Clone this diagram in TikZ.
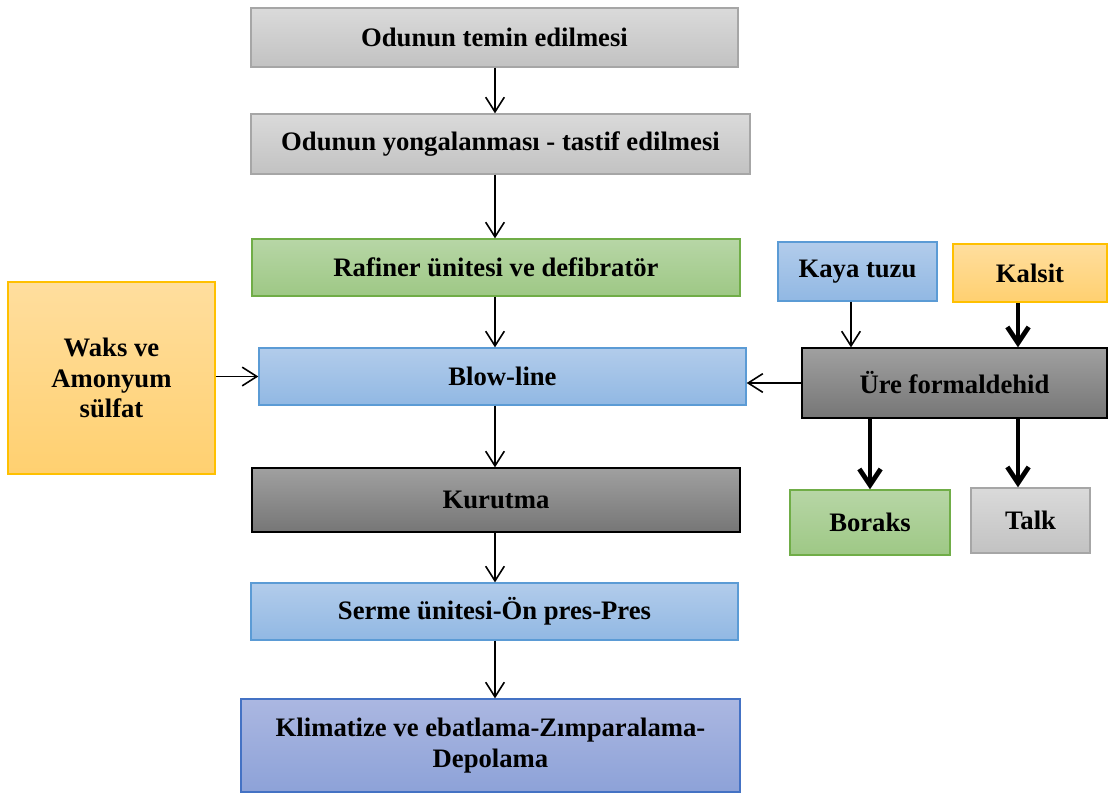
\documentclass[tikz,border=0pt]{standalone}
\usepackage{fontspec}
\setmainfont{Liberation Serif}
\usepackage{tikz}
\usetikzlibrary{arrows.meta}

\definecolor{grayTop}{RGB}{218,218,218}
\definecolor{grayBot}{RGB}{194,194,194}
\definecolor{grayLine}{RGB}{166,166,166}
\definecolor{greenTop}{RGB}{183,214,166}
\definecolor{greenBot}{RGB}{158,200,133}
\definecolor{greenLine}{RGB}{112,173,71}
\definecolor{blueTop}{RGB}{178,204,235}
\definecolor{blueBot}{RGB}{145,184,227}
\definecolor{blueLine}{RGB}{91,155,213}
\definecolor{darkTop}{RGB}{160,160,160}
\definecolor{darkBot}{RGB}{118,118,118}
\definecolor{orangeTop}{RGB}{255,222,158}
\definecolor{orangeBot}{RGB}{255,208,112}
\definecolor{orangeLine}{RGB}{255,192,0}
\definecolor{violetTop}{RGB}{171,183,225}
\definecolor{violetBot}{RGB}{141,162,216}
\definecolor{violetLine}{RGB}{68,114,196}

\begin{document}
\begin{tikzpicture}[x=0.75pt,y=0.75pt,yscale=-1,xscale=1,
    box/.style={draw, line width=1pt, inner sep=0pt, align=center, text=black,
        font=\bfseries\fontsize{20}{23}\selectfont},
    grayBox/.style={box, draw=grayLine, top color=grayTop, bottom color=grayBot},
    greenBox/.style={box, draw=greenLine, top color=greenTop, bottom color=greenBot},
    blueBox/.style={box, draw=blueLine, top color=blueTop, bottom color=blueBot},
    darkBox/.style={box, draw=black, top color=darkTop, bottom color=darkBot},
    orangeBox/.style={box, draw=orangeLine, top color=orangeTop, bottom color=orangeBot},
    violetBox/.style={box, draw=violetLine, top color=violetTop, bottom color=violetBot},
    thinArrow/.style={line width=1.2pt, -{Straight Barb[length=11pt,width=14pt]}},
    thickArrow/.style={line width=3.6pt, -{Straight Barb[length=12pt,width=16pt]}}]
    \useasboundingbox (0,0) rectangle (1110,794);

    %Shape: Main chain
    \node [grayBox, minimum width=365.25pt, minimum height=44.25pt] (temin) at (494.5,37.5) {Odunun temin edilmesi};
    \node [grayBox, minimum width=374.25pt, minimum height=45pt] (yonga) at (500.5,144) {Odunun yongalanması - tastif edilmesi};
    \node [greenBox, minimum width=366pt, minimum height=42.75pt] (rafiner) at (496,267.5) {Rafiner ünitesi ve defibratör};
    \node [blueBox, minimum width=365.25pt, minimum height=42.75pt] (blow) at (502.5,376.5) {Blow-line};
    \node [darkBox, minimum width=366pt, minimum height=48pt] (kurutma) at (496,500) {Kurutma};
    \node [blueBox, minimum width=365.25pt, minimum height=42.75pt] (serme) at (494.5,611.5) {Serme ünitesi-Ön pres-Pres};
    \node [violetBox, minimum width=374.25pt, minimum height=69.75pt] (klima) at (490.5,745.5) {Klimatize ve ebatlama-Zımparalama-\\Depolama};

    %Shape: Side inputs
    \node [orangeBox, minimum width=155.25pt, minimum height=144pt] (waks) at (111.5,378) {Waks ve\\Amonyum\\sülfat};
    \node [blueBox, minimum width=119.25pt, minimum height=44.25pt] (kaya) at (857.5,271.5) {Kaya tuzu};
    \node [orangeBox, minimum width=115.5pt, minimum height=43.5pt] (kalsit) at (1030,273) {Kalsit};
    \node [darkBox, minimum width=228.75pt, minimum height=52.5pt] (ure) at (954.5,383) {Üre formaldehid};
    \node [greenBox, minimum width=120pt, minimum height=48.75pt] (boraks) at (870,522.5) {Boraks};
    \node [grayBox, minimum width=89.25pt, minimum height=48.75pt] (talk) at (1030.5,520.5) {Talk};

    \coordinate (axis) at (495,0);
    \coordinate (kayaIn) at (851,0);
    \coordinate (kalsitIn) at (1018,0);

    %Straight Lines: main flow
    \draw [thinArrow] (temin.south -| axis) -- (yonga.north -| axis);
    \draw [thinArrow] (yonga.south -| axis) -- (rafiner.north -| axis);
    \draw [thinArrow] (rafiner.south -| axis) -- (blow.north -| axis);
    \draw [thinArrow] (blow.south -| axis) -- (kurutma.north -| axis);
    \draw [thinArrow] (kurutma.south -| axis) -- (serme.north -| axis);
    \draw [thinArrow] (serme.south -| axis) -- (klima.north -| axis);

    %Straight Lines: side flow
    \draw [thinArrow] (waks.east |- blow.west) -- (blow.west);
    \draw [thinArrow] (ure.west) -- (ure.west -| blow.east);
    \draw [thinArrow] (kaya.south -| kayaIn) -- (ure.north -| kayaIn);
    \draw [thickArrow] (kalsit.south -| kalsitIn) -- (ure.north -| kalsitIn);
    \draw [thickArrow] (ure.south -| boraks.north) -- (boraks.north);
    \draw [thickArrow] (ure.south -| kalsitIn) -- (talk.north -| kalsitIn);

\end{tikzpicture}
\end{document}
